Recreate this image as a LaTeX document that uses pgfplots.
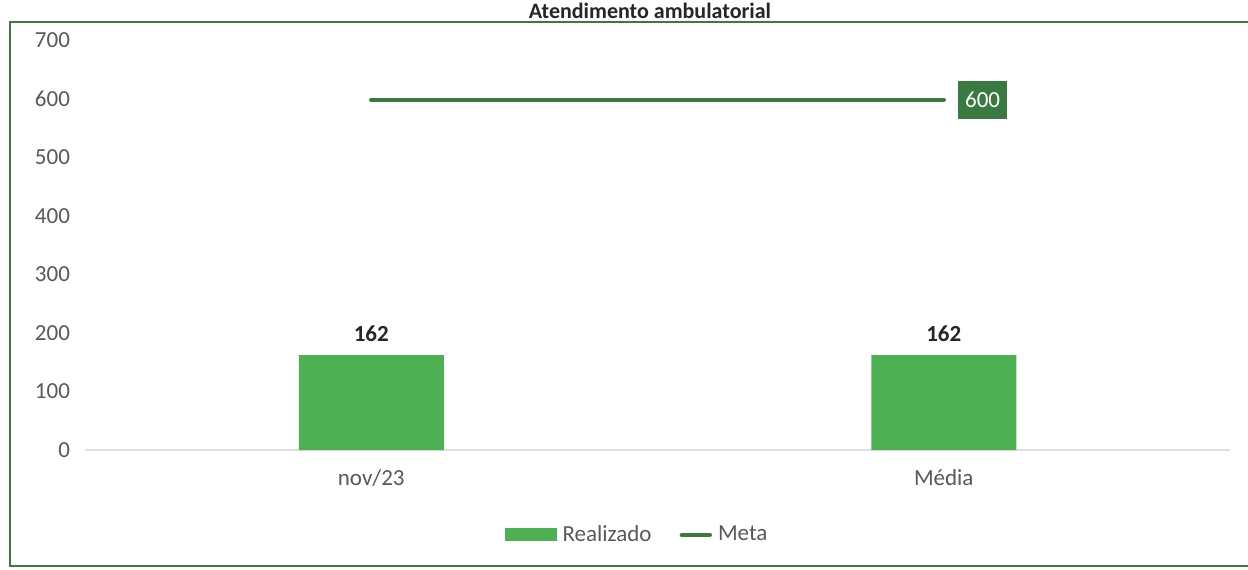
\documentclass[border=0pt]{standalone}
\usepackage{pgfplots}
\pgfplotsset{compat=1.18}
\usepackage{fontspec}
\setmainfont{Carlito}
\definecolor{barg}{HTML}{4DB052}
\definecolor{lineg}{HTML}{3A7A40}
\definecolor{txt}{HTML}{595959}
\begin{document}
\begin{tikzpicture}[x=1pt,y=1pt]
\path[use as bounding box] (0,0) rectangle (624,284.5);
\fill[white] (0,0) rectangle (624,284.5);
\draw[lineg, line width=1pt] (640,273.5) -- (5,273.5) -- (5,1.5) -- (640,1.5);
\node[anchor=base, font=\fontsize{11}{13}\selectfont\bfseries, text=black!85, inner sep=0.5pt] at (325,275.3) {Atendimento ambulatorial};
\begin{axis}[
  at={(42.5pt,59.5pt)}, anchor=south west,
  scale only axis, width=572.5pt, height=205pt,
  xmin=-0.5, xmax=1.5, ymin=0, ymax=700,
  ytick={0,100,...,700},
  xtick={0,1}, xticklabels={nov/23, Média},
  axis x line*=bottom, axis y line*=left,
  x axis line style={draw=black!12, line width=0.6pt, -},
  y axis line style={draw=none},
  major tick length=0pt,
  tick label style={font=\fontsize{11.5}{13}\selectfont, text=txt},
  xticklabel style={yshift=-6pt},
  yticklabel style={xshift=-4pt},
  /pgf/number format/assume math mode=true,
  legend style={at={(axis description cs:0.483,-0.207)}, anchor=center, draw=none, fill=none, legend columns=2, font=\fontsize{11.5}{13}\selectfont, text=txt, /tikz/every even column/.append style={column sep=12pt}, /tikz/every odd column/.append style={column sep=1pt}},
  clip=false,
]
\addplot[ybar, bar width=72.5pt, fill=barg, draw=none, area legend,
  legend image code/.code={\fill[barg] (-9pt,-3.3pt) rectangle (17pt,3.3pt);},
  nodes near coords, every node near coord/.append style={font=\fontsize{11.5}{13}\selectfont\bfseries, text=black!85, yshift=3pt}]
  coordinates {(0,162) (1,162)};
\addlegendentry{Realizado}
\addplot[lineg, line width=2.2pt, line cap=round,
  legend image code/.code={\draw[lineg, line width=2.2pt, line cap=round] (4pt,0pt) -- (18pt,0pt);}]
  coordinates {(0,598) (1,598)};
\addlegendentry{Meta}
\node[fill=lineg, text=white, anchor=west, font=\fontsize{11.5}{13}\selectfont, inner sep=3.5pt, minimum height=19pt] at (axis cs:1,598) [xshift=7pt] {600};
\end{axis}
\end{tikzpicture}
\end{document}
